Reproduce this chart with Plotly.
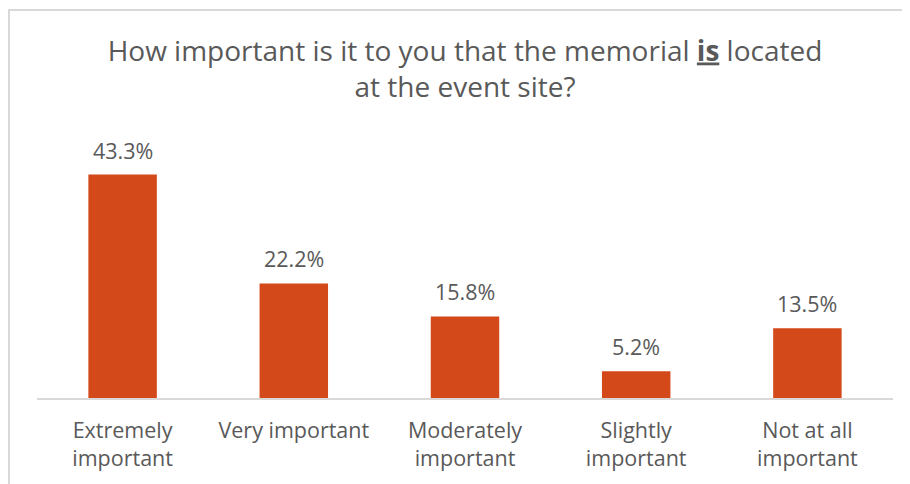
import plotly.graph_objects as go

categories = ["Extremely<br>important", "Very important", "Moderately<br>important",
              "Slightly<br>important", "Not at all<br>important"]
values = [43.3, 22.2, 15.8, 5.2, 13.5]
labels = ["43.3%", "22.2%", "15.8%", "5.2%", "13.5%"]

bar_color = "#D4491A"
text_color = "#595959"
font = "Open Sans"

fig = go.Figure(go.Bar(
    x=categories,
    y=values,
    marker=dict(color=bar_color, line=dict(width=0)),
    hoverinfo="skip",
))

for cat, v, lab in zip(categories, values, labels):
    fig.add_annotation(
        x=cat, y=v, text=lab, showarrow=False,
        yanchor="bottom", yshift=8,
        font=dict(family=font, size=21.5, color=text_color),
    )

# light frame around the chart (only top and left edges fall inside the view)
fig.add_shape(type="rect", xref="paper", yref="paper",
              x0=-28 / 856, x1=1.2, y0=-1, y1=391 / 260,
              line=dict(color="#D9D9D9", width=2), layer="below")

fig.update_layout(
    width=902, height=476,
    margin=dict(l=29, r=17, t=132, b=84),
    paper_bgcolor="white", plot_bgcolor="white",
    bargap=0.6,
    showlegend=False,
    title=dict(
        text="How important is it to you that the memorial <b><u>is</u></b> located<br>at the event site?",
        x=0.5, xref="paper", xanchor="center",
        y=1 - 52.5 / 476, yanchor="middle",
        font=dict(family=font, size=28, color=text_color),
    ),
    xaxis=dict(
        showline=True, linecolor="#D9D9D9", linewidth=1.5,
        ticks="", ticklabelstandoff=12,
        tickfont=dict(family=font, size=21.5, color=text_color),
        fixedrange=True,
    ),
    yaxis=dict(
        range=[0, 50], visible=False, showgrid=False, fixedrange=True,
    ),
)

fig.write_html("out.html")
